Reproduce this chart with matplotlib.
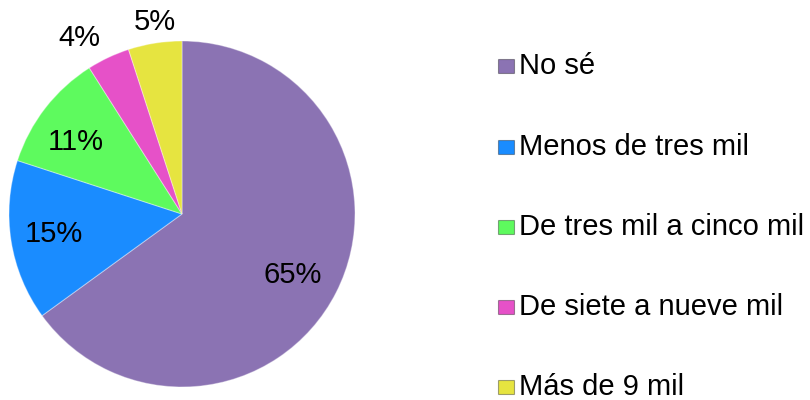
import matplotlib
matplotlib.use("Agg")
import matplotlib.pyplot as plt
import numpy as np

categories = ["No sé", "Menos de tres mil", "De tres mil a cinco mil",
              "De siete a nueve mil", "Más de 9 mil"]
values = [65, 15, 11, 4, 5]
colors = ["#8B73B3", "#1A8CFF", "#5EFA5E", "#E651C8", "#E6E440"]
label_dist = [0.73, 0.75, 0.74, 1.18, 1.12]
label_shift = [-2, 0, 3.5, 5, -1]   # degrees, label angle tweak

plt.rcParams['font.family'] = ['Liberation Sans', 'DejaVu Sans']

fig = plt.figure(figsize=(8.1, 4.0), dpi=100)
# pie axes: center (182,214) px, radius ~173 px
r_px = 173
cx, cy = 182, 214
ax = fig.add_axes([(cx - r_px) / 810, (400 - cy - r_px) / 400,
                   2 * r_px / 810, 2 * r_px / 400])
wedges, _ = ax.pie(values, colors=colors, startangle=90, counterclock=False,
                   radius=1.0,
                   wedgeprops=dict(edgecolor=(1, 1, 1, 0.35), linewidth=0.8))
ax.set_xlim(-1, 1)
ax.set_ylim(-1, 1)
ax.set_aspect('auto')
ax.axis('off')

total = sum(values)
for w, v, d, s in zip(wedges, values, label_dist, label_shift):
    ang = np.deg2rad((w.theta1 + w.theta2) / 2 + s)
    ax.text(d * np.cos(ang), d * np.sin(ang), f"{v / total * 100:.0f}%",
            ha='center', va='center', fontsize=21, color='black', clip_on=False)

# legend
leg_y = [66, 147, 227, 307, 387]
lax = fig.add_axes([0, 0, 1, 1])
lax.set_xlim(0, 810)
lax.set_ylim(400, 0)
lax.axis('off')
for cat, col, y in zip(categories, colors, leg_y):
    lax.add_patch(plt.Rectangle((498, y - 7), 16, 14, facecolor=col,
                                edgecolor=(0, 0, 0, 0.35), linewidth=0.8))
    lax.text(519, y, cat, ha='left', va='center', fontsize=21, color='black')

fig.savefig("out.png", dpi=100, facecolor='white')
